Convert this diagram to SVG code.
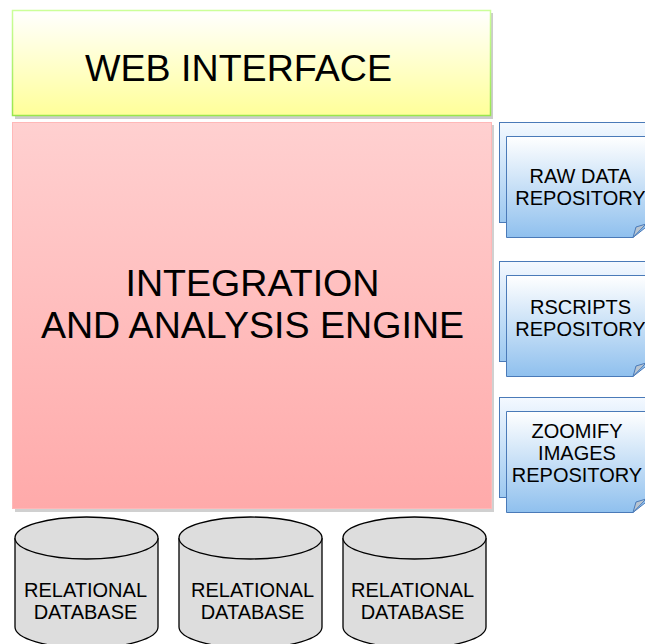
<svg xmlns="http://www.w3.org/2000/svg" width="645" height="644" viewBox="0 0 645 644">
  <style>
    text { font-family: "Liberation Sans", Arial, sans-serif; fill: #000; text-anchor: middle; }
    .big { font-size: 37.6px; }
    .eng { font-size: 37.6px; }
    .repo { font-size: 20px; }
    .db { font-size: 20px; }
    .sheet { stroke: #4a7ab8; stroke-width: 1; }
    .cyl { fill: #dddddd; stroke: #000; stroke-width: 1.3; }
  </style>
  <defs>
    <linearGradient id="gYellow" x1="0" y1="0" x2="0" y2="1">
      <stop offset="0" stop-color="#ffffff"/>
      <stop offset="1" stop-color="#ffff99"/>
    </linearGradient>
    <linearGradient id="gYellowEdge" x1="0" y1="0" x2="0" y2="1">
      <stop offset="0" stop-color="#ccff99"/>
      <stop offset="1" stop-color="#99e64d"/>
    </linearGradient>
    <linearGradient id="gPink" x1="0" y1="0" x2="0" y2="1">
      <stop offset="0" stop-color="#ffd0d0"/>
      <stop offset="1" stop-color="#ffaaaa"/>
    </linearGradient>
    <linearGradient id="gBlue" x1="0" y1="0" x2="0" y2="1">
      <stop offset="0" stop-color="#ffffff"/>
      <stop offset="1" stop-color="#8fc0ee"/>
    </linearGradient>
    <linearGradient id="gBlueBack" x1="0" y1="0" x2="0" y2="1">
      <stop offset="0" stop-color="#f4f9ff"/>
      <stop offset="1" stop-color="#9cc8f0"/>
    </linearGradient>
    <!-- stacked sheet with turned-down corner -->
    <g id="repoStack">
      <rect x="499.5" y="0.5" width="150" height="100" fill="url(#gBlueBack)" class="sheet"/>
      <path d="M506.5 14.5 H650 V102 L633 115.5 H506.5 Z" fill="url(#gBlue)" class="sheet"/>
      <path d="M633 115.5 L636 105 L646 102 Z" fill="#b8c4d0" stroke="#4a7ab8" stroke-width="1"/>
    </g>
  </defs>

  <g id="web-interface">
    <rect x="15" y="13" width="478" height="106" fill="#cccccc"/>
    <rect x="12.5" y="10.5" width="478" height="105" fill="url(#gYellow)" stroke="url(#gYellowEdge)" stroke-width="1.5"/>
    <text class="big" x="238.5" y="81">WEB INTERFACE</text>
  </g>

  <g id="engine">
    <rect x="15" y="125" width="479" height="387" fill="#d0d0d0"/>
    <rect x="12.5" y="122.5" width="479" height="386" fill="url(#gPink)" stroke="#ffb8b8" stroke-width="1"/>
    <text class="eng" x="252.5" y="296">INTEGRATION</text>
    <text class="eng" x="252.5" y="338">AND ANALYSIS ENGINE</text>
  </g>

  <g id="raw-data-repository">
    <use href="#repoStack" y="122"/>
    <text class="repo" x="580.5" y="183">RAW DATA</text>
    <text class="repo" x="580.5" y="205">REPOSITORY</text>
  </g>

  <g id="rscripts-repository">
    <use href="#repoStack" y="261"/>
    <text class="repo" x="580.5" y="314">RSCRIPTS</text>
    <text class="repo" x="580.5" y="336">REPOSITORY</text>
  </g>

  <g id="zoomify-images-repository">
    <use href="#repoStack" y="397"/>
    <text class="repo" x="577" y="438">ZOOMIFY</text>
    <text class="repo" x="577" y="460">IMAGES</text>
    <text class="repo" x="577" y="482">REPOSITORY</text>
  </g>

  <g id="database-1">
    <path class="cyl" d="M15 538 V627 A71.5 21 0 0 0 158 627 V538"/>
    <ellipse class="cyl" cx="86.5" cy="538" rx="71.5" ry="21"/>
    <text class="db" x="85.5" y="597">RELATIONAL</text>
    <text class="db" x="85.5" y="619">DATABASE</text>
  </g>

  <g id="database-2">
    <path class="cyl" d="M179 538 V627 A71.5 21 0 0 0 322 627 V538"/>
    <ellipse class="cyl" cx="250.5" cy="538" rx="71.5" ry="21"/>
    <text class="db" x="252.5" y="597">RELATIONAL</text>
    <text class="db" x="252.5" y="619">DATABASE</text>
  </g>

  <g id="database-3">
    <path class="cyl" d="M343 538 V627 A71.5 21 0 0 0 486 627 V538"/>
    <ellipse class="cyl" cx="414.5" cy="538" rx="71.5" ry="21"/>
    <text class="db" x="412.5" y="597">RELATIONAL</text>
    <text class="db" x="412.5" y="619">DATABASE</text>
  </g>

  <g id="connectors"/>
</svg>
